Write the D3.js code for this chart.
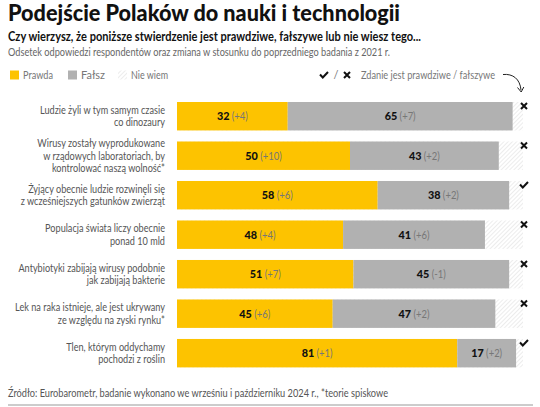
<!DOCTYPE html>
<html><head><meta charset="utf-8">
<script src="https://cdn.jsdelivr.net/npm/d3@7"></script>
<style>
body{margin:0;background:#fff;}
svg{display:block;font-family:Lato, "Noto Sans", sans-serif;}
</style></head>
<body><div id="chart"></div>
<script>
const categories = [
  ["Ludzie żyli w tym samym czasie","co dinozaury"],
  ["Wirusy zostały wyprodukowane","w rządowych laboratoriach, by","kontrolować naszą wolność*"],
  ["Żyjący obecnie ludzie rozwinęli się","z wcześniejszych gatunków zwierząt"],
  ["Populacja świata liczy obecnie","ponad 10 mld"],
  ["Antybiotyki zabijają wirusy podobnie","jak zabijają bakterie"],
  ["Lek na raka istnieje, ale jest ukrywany","ze względu na zyski rynku*"],
  ["Tlen, którym oddychamy","pochodzi z roślin"]
];
const prawda = [32,50,58,48,51,45,81];
const prawdaChange = ["+4","+10","+6","+4","+7","+6","+1"];
const falsz = [65,43,38,41,45,47,17];
const falszChange = ["+7","+2","+2","+6","-1","+2","+2"];
const nieWiem = [3,7,4,11,4,8,2];
const answer = ["false","false","true","false","false","false","true"];
const legendLabels = ["Prawda","Fałsz","Nie wiem"];

const W=540,H=407;
const svg=d3.select("#chart").append("svg").attr("width",W).attr("height",H);
const defs=svg.append("defs");
const pat=defs.append("pattern").attr("id","hatch").attr("patternUnits","userSpaceOnUse")
  .attr("width",3).attr("height",3).attr("patternTransform","rotate(45)");
pat.append("rect").attr("width",3).attr("height",3).attr("fill","#fff");
pat.append("line").attr("x1",0).attr("y1",0).attr("x2",0).attr("y2",3).attr("stroke","#d9d9d9").attr("stroke-width",1);

// condense a text horizontally (reference font is narrower than the installed ones)
function fitWidth(node,w){ d3.select(node).attr("textLength",w).attr("lengthAdjust","spacingAndGlyphs"); }
function condense(node,k){ fitWidth(node,node.getComputedTextLength()*k); }

const YEL="#FDC300", GRY="#B1B1B1";
// Title
const title=svg.append("text").attr("x",8).attr("y",21).attr("font-size",21.8).attr("font-weight",900).attr("fill","#111").text("Podejście Polaków do nauki i technologii");
fitWidth(title.node(),392);
const sub=svg.append("text").attr("x",8).attr("y",40.5).attr("font-size",12.3).attr("font-weight",700).attr("fill","#111").text("Czy wierzysz, że poniższe stwierdzenie jest prawdziwe, fałszywe lub nie wiesz tego...");
fitWidth(sub.node(),413);
const sub2=svg.append("text").attr("x",8).attr("y",55.5).attr("font-size",11).attr("fill","#666").text("Odsetek odpowiedzi respondentów oraz zmiana w stosunku do poprzedniego badania z 2021 r.");
fitWidth(sub2.node(),382);

// Legend
const lg=svg.append("g").attr("font-size",11);
const lx=[10,68,118];
const lw=[30,24,37];
const lfill=[YEL,GRY,"url(#hatch)"];
legendLabels.forEach((l,i)=>{
  lg.append("rect").attr("x",lx[i]).attr("y",70.5).attr("width",9).attr("height",9).attr("fill",lfill[i]);
  const t=lg.append("text").attr("x",lx[i]+13).attr("y",78.5).attr("fill","#777").text(l);
  fitWidth(t.node(),lw[i]);
});

function check(g,cx,cy){
  g.append("path").attr("d",`M${cx-4},${cy-0.5} L${cx-1.2},${cy+2.5} L${cx+4},${cy-3}`).attr("fill","none").attr("stroke","#111").attr("stroke-width",2);
}
function cross(g,cx,cy){
  g.append("path").attr("d",`M${cx-3},${cy-3} L${cx+3},${cy+3} M${cx+3},${cy-3} L${cx-3},${cy+3}`).attr("fill","none").attr("stroke","#111").attr("stroke-width",2);
}
check(svg,324,75);
svg.append("text").attr("x",333.5).attr("y",78.5).attr("font-size",11).attr("fill","#777").text("/");
cross(svg,347,75);
const zd=svg.append("text").attr("x",361).attr("y",78.5).attr("font-size",11).attr("fill","#777").text("Zdanie jest prawdziwe / fałszywe");
fitWidth(zd.node(),134);
svg.append("path").attr("d","M503,74.5 C513,73.5 520,79 521,90").attr("fill","none").attr("stroke","#222").attr("stroke-width",1);
svg.append("path").attr("d","M517.5,87.5 L521.2,92 L523.8,87").attr("fill","none").attr("stroke","#222").attr("stroke-width",1);

// Scales
const x=d3.scaleLinear().domain([0,100]).range([177,523]);
const idx=d3.range(categories.length);
const y=d3.scaleBand().domain(idx).range([102,367.4]).paddingInner(0.28).paddingOuter(0);

const rows=svg.append("g").selectAll("g").data(idx).join("g");
rows.append("rect").attr("x",x(0)).attr("y",i=>y(i)).attr("height",y.bandwidth())
  .attr("width",i=>x(100)-x(0)).attr("fill","url(#hatch)");
rows.append("rect").attr("x",x(0)).attr("y",i=>y(i)).attr("height",y.bandwidth())
  .attr("width",i=>x(prawda[i])-x(0)).attr("fill",YEL);
rows.append("rect").attr("x",i=>x(prawda[i])).attr("y",i=>y(i)).attr("height",y.bandwidth())
  .attr("width",i=>x(prawda[i]+falsz[i])-x(prawda[i])).attr("fill",GRY);

function valLabel(sel,cxf,valf,chf){
  const t=sel.append("text").attr("x",cxf).attr("y",i=>y(i)+y.bandwidth()/2+4.2).attr("text-anchor","middle").attr("font-size",12);
  t.append("tspan").attr("font-weight",900).attr("fill","#111").text(valf);
  t.append("tspan").attr("font-size",10.5).attr("fill","#777").text(i=>" ("+chf(i)+")");
  t.each(function(){ condense(this,0.9); });
}
valLabel(rows,i=>(x(0)+x(prawda[i]))/2,i=>prawda[i],i=>prawdaChange[i]);
valLabel(rows,i=>(x(prawda[i])+x(prawda[i]+falsz[i]))/2,i=>falsz[i],i=>falszChange[i]);

// Category labels
const labelNodes=[];
rows.each(function(i){
  const g=d3.select(this);
  const lines=categories[i];
  const lh=12.2;
  const c=y(i)+y.bandwidth()/2;
  lines.forEach((ln,k)=>{
    const t=g.append("text").attr("x",165).attr("y",c+(k-(lines.length-1)/2)*lh+3.8)
      .attr("text-anchor","end").attr("font-size",11).attr("fill","#555").text(ln);
    labelNodes.push(t.node());
  });
  if(answer[i]==="true") check(g,x(100)+1,y(i)+4); else cross(g,x(100)+1,y(i)+4);
});
const kLab=125/labelNodes[0].getComputedTextLength();
labelNodes.forEach(n=>condense(n,kLab));

// Footer
const ft=svg.append("text").attr("x",8).attr("y",397).attr("font-size",10.8).attr("fill","#555").text("Źródło: Eurobarometr, badanie wykonano we wrześniu i październiku 2024 r., *teorie spiskowe");
fitWidth(ft.node(),380);
svg.append("line").attr("x1",8).attr("x2",533).attr("y1",405).attr("y2",405).attr("stroke","#999").attr("stroke-width",1);
</script></body></html>
